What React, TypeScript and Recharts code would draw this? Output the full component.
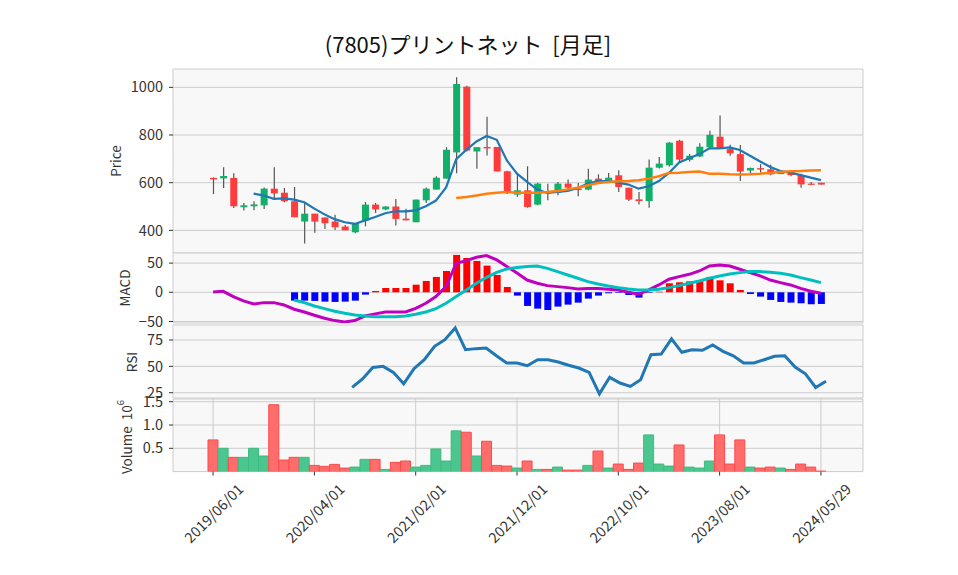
import { ComposedChart, Bar, Line, XAxis, YAxis, CartesianGrid, Cell } from 'recharts';

// --- Data (monthly, 2019/06 - 2024/05) ---

const dates = [
  '2019/06/01', '2019/07/01', '2019/08/01', '2019/09/01', '2019/10/01', '2019/11/01', '2019/12/01',
  '2020/01/01', '2020/02/01', '2020/03/01', '2020/04/01', '2020/05/01', '2020/06/01',
  '2020/07/01', '2020/08/01', '2020/09/01', '2020/10/01', '2020/11/01', '2020/12/01',
  '2021/01/01', '2021/02/01', '2021/03/01', '2021/04/01', '2021/05/01', '2021/06/01',
  '2021/07/01', '2021/08/01', '2021/09/01', '2021/10/01', '2021/11/01', '2021/12/01',
  '2022/01/01', '2022/02/01', '2022/03/01', '2022/04/01', '2022/05/01', '2022/06/01',
  '2022/07/01', '2022/08/01', '2022/09/01', '2022/10/01', '2022/11/01', '2022/12/01',
  '2023/01/01', '2023/02/01', '2023/03/01', '2023/04/01', '2023/05/01', '2023/06/01',
  '2023/07/01', '2023/08/01', '2023/09/01', '2023/10/01', '2023/11/01', '2023/12/01',
  '2024/01/01', '2024/02/01', '2024/03/01', '2024/04/01', '2024/05/01', '2024/05/29',
];

const openPrices = [
  620, 618, 620, 497, 501, 505, 575, 558, 522, 437,
  470, 454, 437, 416, 392, 441, 508, 488, 500, 449,
  434, 526, 571, 617, 727, 1003, 731, 750, 750, 648,
  550, 568, 508, 563, 558, 596, 575, 571, 617, 607,
  631, 579, 530, 523, 663, 673, 776, 696, 710, 748,
  793, 741, 720, 651, 661, 656, 636, 647, 632, 596,
  600,
];

const highPrices = [
  622, 665, 640, 515, 522, 580, 665, 578, 582, 515,
  470, 454, 466, 422, 431, 519, 515, 501, 532, 491,
  529, 580, 627, 749, 1042, 1007, 749, 877, 750, 650,
  640, 669, 600, 596, 603, 613, 599, 659, 635, 641,
  652, 579, 561, 697, 708, 770, 780, 720, 765, 818,
  882, 759, 758, 663, 678, 675, 647, 649, 638, 603,
  600,
];

const lowPrices = [
  552, 578, 494, 483, 484, 490, 536, 518, 455, 345,
  390, 406, 402, 400, 388, 417, 473, 484, 420, 442,
  434, 515, 571, 617, 640, 731, 659, 714, 647, 553,
  541, 495, 505, 526, 547, 568, 543, 568, 606, 603,
  561, 523, 509, 495, 660, 668, 683, 689, 707, 745,
  744, 713, 607, 638, 642, 631, 636, 627, 579, 589,
  592,
];

const closePrices = [
  614, 628, 501, 505, 509, 575, 555, 522, 455, 470,
  437, 430, 413, 400, 431, 508, 488, 500, 448, 442,
  529, 575, 621, 738, 1014, 735, 749, 744, 647, 561,
  568, 498, 596, 556, 596, 579, 569, 613, 607, 621,
  582, 529, 523, 663, 680, 768, 697, 713, 751, 801,
  744, 723, 647, 662, 655, 635, 646, 632, 593, 592,
  592,
];

const ma5 = [
  null, null, null, null, 554, 546, 532, 534, 529, 518,
  491, 467, 447, 434, 427, 442, 456, 472, 480, 480,
  484, 501, 525, 580, 699, 738, 773, 796, 780, 693,
  638, 603, 571, 557, 561, 565, 578, 596, 607, 607,
  600, 592, 575, 585, 607, 641, 685, 703, 720, 744,
  744, 748, 737, 713, 689, 666, 649, 642, 632, 621,
  611,
];

const ma25 = [
  null, null, null, null, null, null, null, null, null, null,
  null, null, null, null, null, null, null, null, null, null,
  null, null, null, null, 536, 540, 546, 554, 558, 561,
  558, 558, 558, 561, 565, 572, 579, 589, 599, 603,
  606, 607, 610, 617, 627, 641, 642, 645, 647, 638,
  637, 635, 634, 635, 638, 642, 645, 648, 649, 651,
  652,
];

const macdLine = [
  0.6, 1.7, -7.4, -14.8, -20, -17.7, -17.7, -21.7, -29, -33.7,
  -39.4, -44.5, -48.5, -50.8, -48.5, -40.5, -37, -33.7, -33.7, -33.7,
  -27.4, -18.8, -7.4, 9.7, 49.7, 54.2, 60, 62.8, 55.4, 44,
  33, 21, 15.4, 11.4, 9.7, 8, 5.7, 6.3, 6.3, 5.1,
  4, 0, -3.4, 4, 12.6, 22.3, 26.8, 30.8, 36.5, 45,
  46.8, 45, 39.4, 33.7, 28, 21, 16.6, 12.6, 6.8, 1.7,
  -1.7,
];

const signalLine = [
  null, null, null, null, null, null, null, null, -13.1, -17.7,
  -23.4, -28, -32.5, -36, -38.8, -40.5, -41.7, -41.7, -41.7, -40.5,
  -37.7, -33.7, -28, -18.8, -7.4, 4, 15.4, 25.7, 34.2, 40,
  42.5, 44, 45, 41, 35.4, 29.7, 24, 18.3, 14.3, 10.8,
  8, 5.7, 4, 4, 5.1, 8, 11.4, 15.4, 19.4, 24,
  28, 31.4, 33.7, 35.4, 35.4, 34.2, 32.5, 29.7, 25.1, 21,
  16.6,
];

const macdHist = [
  null, null, null, null, null, null, null, null, -14.3, -14.3,
  -14.8, -16, -16.5, -16, -14.3, -4, 2.3, 7.4, 7.4, 7.4,
  13, 19.4, 26.3, 36.5, 64, 58.8, 53.7, 45.7, 29.7, 9.1,
  -5.7, -23.4, -28, -30.3, -24.5, -21.1, -17.7, -10.8, -5.7, -1.7,
  -1.1, -4.6, -9.1, -1, 1, 15.4, 17.1, 18.8, 20.5, 26.3,
  20.5, 15.4, 4, -2.9, -7.4, -13.1, -16.5, -17.7, -18.8, -20.5,
  -20,
];

const rsi = [
  null, null, null, null, null, null, null, null, null, null,
  null, null, null, null, 30, 38, 49, 50, 44.3, 33.5,
  47.8, 56.3, 69, 75.3, 86.4, 65.8, 66.8, 67.4, 60, 53.2,
  53.2, 50.6, 56.3, 56.3, 54.1, 51, 48.4, 44.3, 24, 39.6,
  34.2, 31, 37.3, 61, 61.7, 76, 63.3, 65.8, 65.2, 70.3,
  64.2, 60, 53.2, 53.2, 56.3, 59.5, 60, 49.4, 43, 30,
  35.8,
];

const volumes = [
  680000, 500000, 306000, 306000, 500000, 335000, 1435000, 248000, 306000, 306000,
  133000, 112000, 155000, 76000, 97000, 263000, 263000, 47000, 198000, 227000,
  97000, 133000, 486000, 227000, 874000, 845000, 335000, 651000, 133000, 119000,
  76000, 227000, 47000, 47000, 97000, 32000, 32000, 133000, 442000, 76000,
  162000, 47000, 183000, 788000, 162000, 119000, 572000, 97000, 76000, 227000,
  788000, 162000, 680000, 97000, 76000, 97000, 76000, 47000, 162000, 97000,
  11000,
];

const priceTicks = [400, 600, 800, 1000];
const macdTicks = [-50, 0, 50];
const rsiTicks = [25, 50, 75];
const volumeTicks = [500000, 1000000, 1500000];

const data = dates.map((date, i) => ({
  date,
  open: openPrices[i],
  high: highPrices[i],
  low: lowPrices[i],
  close: closePrices[i],
  range: [lowPrices[i], highPrices[i]],
  ma5: ma5[i],
  ma25: ma25[i],
  macd: macdLine[i],
  signal: signalLine[i],
  hist: macdHist[i],
  rsi: rsi[i],
  volume: volumes[i],
}));

// --- Styles ---

const FONT = "'Noto Sans CJK JP', 'DejaVu Sans', sans-serif";
const TEXT = '#333333';
const GRID = '#cccccc';
const PANEL = '#f8f8f8';
const UP = '#10b068';
const DOWN = '#ff3c3c';

const chartMargin = { top: 0, right: 95, bottom: 0, left: 113 };
const xPadding = { left: 35, right: 37 };
const tickStyle = { fill: TEXT, fontSize: 14.5, fontFamily: FONT };

// --- Custom shapes ---

const Candle = (props: any) => {
  const { x, y, width, height, payload } = props;
  if (!payload || height == null) return null;
  const { open, close, high, low } = payload;
  const top = Math.min(y, y + height);
  const h = Math.abs(height);
  const ppu = high > low ? h / (high - low) : 0;
  const cx = x + width / 2;
  const bodyTop = top + (high - Math.max(open, close)) * ppu;
  const bodyBot = top + (high - Math.min(open, close)) * ppu;
  return (
    <g>
      <line x1={cx} x2={cx} y1={top} y2={top + h} stroke="#555555" strokeWidth={1.2} />
      <rect
        x={x}
        y={bodyTop}
        width={width}
        height={Math.max(bodyBot - bodyTop, 1.2)}
        fill={close >= open ? UP : DOWN}
      />
    </g>
  );
};

const DateTick = (props: any) => {
  const { x, y, payload } = props;
  const cy = y + 35;
  return (
    <text
      x={x}
      y={cy}
      transform={`rotate(-45, ${x}, ${cy})`}
      textAnchor="middle"
      dominantBaseline="central"
      fontSize={14.5}
      fontFamily={FONT}
      fill={TEXT}
    >
      {payload.value}
    </text>
  );
};

const minusFmt = (v: number) => (v < 0 ? `\u2212${Math.abs(v)}` : `${v}`);

const panelStyle = (top: number) => ({ position: 'absolute' as const, left: 0, top });

const yAxisCommon = {
  width: 60,
  allowDataOverflow: true,
  interval: 0 as const,
  axisLine: false,
  tickSize: 4,
  tickMargin: 6,
  tickLine: { stroke: TEXT },
  tick: tickStyle,
};

export default function App() {
  const upperX = (
    <XAxis
      dataKey="date"
      interval={9}
      padding={xPadding}
      height={0}
      tick={false}
      tickLine={false}
      axisLine={false}
    />
  );

  return (
    <div style={{ position: 'absolute', left: 0, top: 0, width: 958, height: 575, background: '#ffffff', fontFamily: FONT }}>
      <style>{'.recharts-surface { overflow: visible; }'}</style>

      {/* Price panel */}
      <div style={panelStyle(69)}>
        <ComposedChart width={958} height={184} data={data} margin={chartMargin}>
          <CartesianGrid fill={PANEL} stroke={GRID} strokeWidth={1} />
          {upperX}
          <YAxis {...yAxisCommon} domain={[305, 1077]} ticks={priceTicks} />
          <Bar dataKey="range" barSize={7} shape={<Candle />} isAnimationActive={false} />
          <Line type="linear" dataKey="ma5" stroke="#1f77b4" strokeWidth={2.2} dot={false} activeDot={false} isAnimationActive={false} />
          <Line type="linear" dataKey="ma25" stroke="#ff7f0e" strokeWidth={2.5} dot={false} activeDot={false} isAnimationActive={false} />
        </ComposedChart>
      </div>

      {/* MACD panel */}
      <div style={panelStyle(253)}>
        <ComposedChart width={958} height={70} data={data} margin={chartMargin}>
          <CartesianGrid fill={PANEL} stroke={GRID} strokeWidth={1} />
          {upperX}
          <YAxis {...yAxisCommon} domain={[-52.6, 67.3]} ticks={macdTicks} tickFormatter={minusFmt} />
          <Bar dataKey="hist" barSize={7} isAnimationActive={false}>
            {data.map((d, i) => (
              <Cell key={i} fill={(d.hist ?? 0) >= 0 ? '#ff0000' : '#0000ff'} />
            ))}
          </Bar>
          <Line type="linear" dataKey="macd" stroke="#bf00bf" strokeWidth={3} dot={false} activeDot={false} isAnimationActive={false} />
          <Line type="linear" dataKey="signal" stroke="#00bfbf" strokeWidth={3} dot={false} activeDot={false} isAnimationActive={false} />
        </ComposedChart>
      </div>

      {/* RSI panel */}
      <div style={panelStyle(325)}>
        <ComposedChart width={958} height={73} data={data} margin={chartMargin}>
          <CartesianGrid fill={PANEL} stroke={GRID} strokeWidth={1} />
          {upperX}
          <YAxis {...yAxisCommon} domain={[20, 89.2]} ticks={rsiTicks} />
          <Line type="linear" dataKey="rsi" stroke="#1f77b4" strokeWidth={3} dot={false} activeDot={false} isAnimationActive={false} />
        </ComposedChart>
      </div>

      {/* Volume panel */}
      <div style={panelStyle(399)}>
        <ComposedChart width={958} height={176} data={data} margin={chartMargin} barCategoryGap={0}>
          <CartesianGrid fill={PANEL} stroke={GRID} strokeWidth={1} />
          <XAxis
            dataKey="date"
            interval={9}
            padding={xPadding}
            height={103.4}
            axisLine={false}
            tickSize={4}
            tickMargin={2}
            tickLine={{ stroke: TEXT }}
            tick={<DateTick />}
          />
          <YAxis
            {...yAxisCommon}
            domain={[0, 1558000]}
            ticks={volumeTicks}
            tickFormatter={(v: number) => (v / 1e6).toFixed(1)}
          />
          <Bar dataKey="volume" isAnimationActive={false}>
            {data.map((d, i) => (
              <Cell
                key={i}
                fill={d.close >= d.open ? '#4cc68f' : '#ff6c6c'}
                stroke={d.close >= d.open ? '#3dbb80' : '#ff4a4a'}
                strokeWidth={1}
              />
            ))}
          </Bar>
        </ComposedChart>
      </div>

      {/* Titles */}
      <svg width={958} height={575} style={{ position: 'absolute', left: 0, top: 0, pointerEvents: 'none' }}>
        <text x={468} y={53} textAnchor="middle" fontSize={22} fontFamily={FONT} fill="#111111">
          {'(7805)プリントネット\u00a0\u00a0[月足]'}
        </text>
        <text x={115} y={161} transform="rotate(-90, 115, 161)" textAnchor="middle" dominantBaseline="central" fontSize={13.5} fontFamily={FONT} fill={TEXT}>
          Price
        </text>
        <text x={124} y={288} transform="rotate(-90, 124, 288)" textAnchor="middle" dominantBaseline="central" fontSize={13.5} fontFamily={FONT} fill={TEXT}>
          MACD
        </text>
        <text x={131} y={362} transform="rotate(-90, 131, 362)" textAnchor="middle" dominantBaseline="central" fontSize={13.5} fontFamily={FONT} fill={TEXT}>
          RSI
        </text>
        <text x={126} y={437} transform="rotate(-90, 126, 437)" textAnchor="middle" dominantBaseline="central" fontSize={13.5} fontFamily={FONT} fill={TEXT}>
          {'Volume\u00a0\u00a010'}<tspan dy={-6} fontSize={9.5}>6</tspan>
        </text>
      </svg>
    </div>
  );
}
